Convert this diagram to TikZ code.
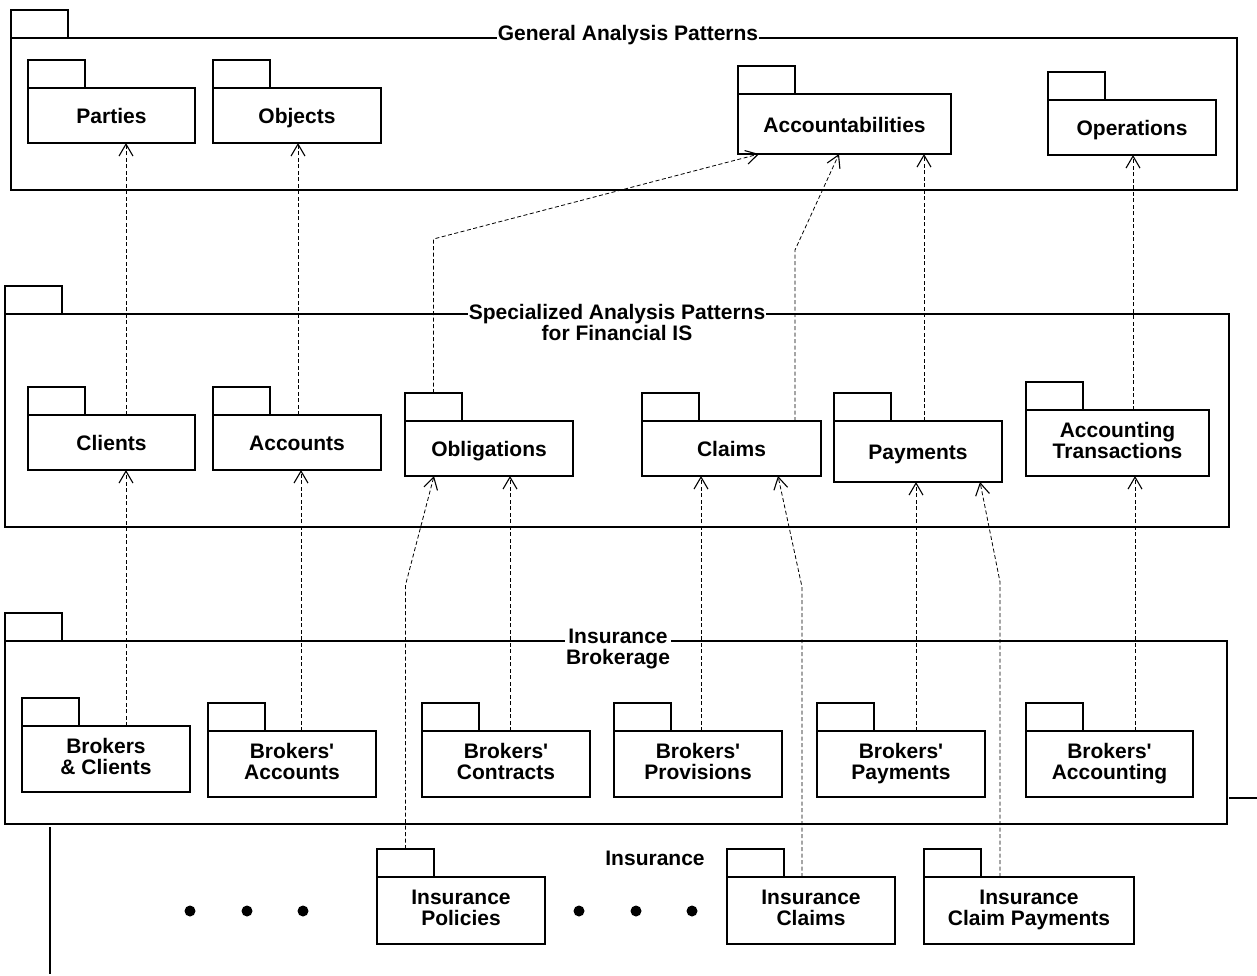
\documentclass[tikz,border=0pt]{standalone}
\usepackage{fontspec}
\setmainfont{Liberation Sans}
\usetikzlibrary{arrows.meta}
\def\pkg(#1)(#2,#3)(#4,#5)#6{%
  \node[pkgbody, minimum width=#4pt-#2pt, minimum height=#5pt-#3pt, anchor=north west] (#1) at (#2,#3) {#6};
  \node[pkgtab, anchor=south west] (#1tab) at (#1.north west) {};}
\def\q{\textquotesingle}

\begin{document}
\begin{tikzpicture}[x=1pt, y=-1pt,
    font=\fontsize{21}{21}\selectfont\bfseries,
    pkgbody/.style={draw, fill=white, line width=1.1pt, inner sep=0pt, outer sep=0pt, align=center,
      execute at begin node={\rule{0pt}{21pt}}, execute at end node={\rule[-5pt]{0pt}{5pt}}},
    pkgtab/.style={draw, fill=white, line width=1.1pt, inner sep=0pt, outer sep=0pt, minimum width=57pt, minimum height=28pt},
    pkgtitle/.style={fill=white, inner xsep=1pt, inner ysep=0pt, align=center},
    dep/.style={line width=0.8pt, dash pattern=on 4pt off 2.5pt, -{Straight Barb[length=12pt, width=14pt, line width=1.1pt]}}]
  \useasboundingbox (0,0) rectangle (1257,975);

  %%%%% containers %%%%%
  \pkg(general)(11,38)(1237,190){}
  \node[pkgtitle, anchor=base] (generaltitle) at (628,40) {General Analysis Patterns};
  \pkg(special)(5,314)(1229,527){}
  \node[pkgtitle] (specialtitle) at (617,322) {Specialized Analysis Patterns\\for Financial IS};
  \pkg(brokerage)(5,641)(1227,824){}
  \node[pkgtitle] (brokeragetitle) at (618,649) {Insurance\\Brokerage};
  \node[anchor=base] (insurancetitle) at (655,865) {Insurance};

  %%%%% general %%%%%
  \pkg(parties)(28,88)(195,143){Parties}
  \pkg(objects)(213,88)(381,143){Objects}
  \pkg(accountab)(738,94)(951,154){Accountabilities}
  \pkg(operations)(1048,100)(1216,155){Operations}

  %%%%% specialized %%%%%
  \pkg(clients)(28,415)(195,470){Clients}
  \pkg(accounts)(213,415)(381,470){Accounts}
  \pkg(obligations)(405,421)(573,476){Obligations}
  \pkg(claims)(642,421)(821,476){Claims}
  \pkg(payments)(834,421)(1002,482){Payments}
  \pkg(acctrans)(1026,410)(1209,476){Accounting\\Transactions}

  %%%%% brokerage %%%%%
  \pkg(brokcli)(22,726)(190,792){Brokers\\\& Clients}
  \pkg(brokacc)(208,731)(376,797){Brokers\q\\Accounts}
  \pkg(brokcon)(422,731)(590,797){Brokers\q\\Contracts}
  \pkg(brokprov)(614,731)(782,797){Brokers\q\\Provisions}
  \pkg(brokpay)(817,731)(985,797){Brokers\q\\Payments}
  \pkg(brokacct)(1026,731)(1193,797){Brokers\q\\Accounting}

  %%%%% insurance %%%%%
  \pkg(inspol)(377,877)(545,944){Insurance\\Policies}
  \pkg(insclaims)(727,877)(895,944){Insurance\\Claims}
  \pkg(inscp)(924,877)(1134,944){Insurance\\Claim Payments}
  \foreach \x in {190,247,303,579,636,692}
    \fill (\x,911) circle (5.5);

  \draw[line width=1.1pt] (50,827) -- (50,974);
  \draw[line width=1.1pt] (1229,798) -- (1257,798);

  %%%%% dependencies %%%%%
  \draw[dep] ([xshift=14.5pt]clients.north) -- ([xshift=14.5pt]parties.south);
  \draw[dep] ([xshift=1pt]accounts.north) -- ([xshift=1pt]objects.south);
  \draw[dep] (obligationstab.north) -- ++(0,-154) -- ([xshift=-85.5pt]accountab.south);
  \draw[dep] ([xshift=63.5pt]claims.north) -- ++(0,-171) -- ([xshift=-5.5pt]accountab.south);
  \draw[dep] ([xshift=6pt]payments.north) -- ([xshift=79.5pt]accountab.south);
  \draw[dep] ([xshift=15.5pt]acctrans.north) -- ([xshift=1pt]operations.south);

  \draw[dep] ([xshift=20pt]brokcli.north) -- ([xshift=14.5pt]clients.south);
  \draw[dep] ([xshift=9pt]brokacc.north) -- ([xshift=4pt]accounts.south);
  \draw[dep] (inspoltab.north) -- ++(0,-264) -- ([xshift=-55pt]obligations.south);
  \draw[dep] ([xshift=4pt]brokcon.north) -- ([xshift=21pt]obligations.south);
  \draw[dep] ([xshift=3pt]brokprov.north) -- ([xshift=-30.5pt]claims.south);
  \draw[dep] ([xshift=-9pt]insclaims.north) -- ++(0,-290) -- ([xshift=46.5pt]claims.south);
  \draw[dep] ([xshift=15pt]brokpay.north) -- ([xshift=-2pt]payments.south);
  \draw[dep] ([xshift=-29pt]inscp.north) -- ++(0,-295) -- ([xshift=62pt]payments.south);
  \draw[dep] ([xshift=25.5pt]brokacct.north) -- ([xshift=17.5pt]acctrans.south);
\end{tikzpicture}
\end{document}
